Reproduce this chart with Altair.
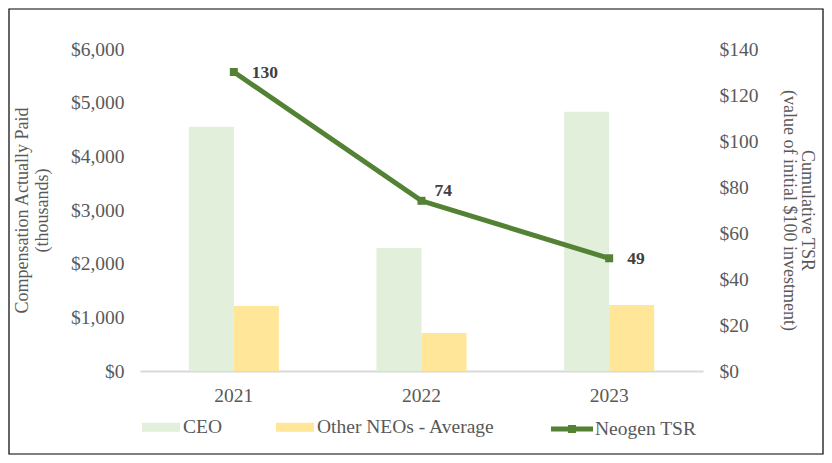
import altair as alt
import pandas as pd

# ---- data ----
years = ["2021", "2022", "2023"]
ceo_cap = [4550, 2290, 4830]
neo_cap = [1210, 710, 1230]
tsr = [130, 74, 49]
bar_series = ["CEO", "Other NEOs - Average"]
line_series = "Neogen TSR"
left_ticks = [0, 1000, 2000, 3000, 4000, 5000, 6000]
right_ticks = [0, 20, 40, 60, 80, 100, 120, 140]

bar_df = pd.DataFrame({
    "Year": years * 2,
    "Series": [bar_series[0]] * 3 + [bar_series[1]] * 3,
    "Value": ceo_cap + neo_cap,
})
tsr_df = pd.DataFrame({"Year": years, "TSR": tsr, "Series": [line_series] * 3})

FONT = "Liberation Serif"
GREEN = "#548235"
GREY = "#595959"
LBL = 19.5
W, H = 563, 322

x_enc = alt.X(
    "Year:N",
    sort=years,
    scale=alt.Scale(paddingInner=0.52, paddingOuter=0.26),
    axis=alt.Axis(
        title=None, labelAngle=0, ticks=False, tickSize=0,
        domainColor="#D9D9D9", domainWidth=2, labelPadding=15,
        labelFont=FONT, labelFontSize=LBL, labelColor=GREY, grid=False,
    ),
)

bars = alt.Chart(bar_df).mark_bar().encode(
    x=x_enc,
    xOffset=alt.XOffset("Series:N", sort=bar_series,
                        scale=alt.Scale(paddingInner=0, paddingOuter=0)),
    y=alt.Y(
        "Value:Q",
        scale=alt.Scale(domain=[0, 6000], nice=False),
        axis=alt.Axis(
            orient="left", values=left_ticks, format="$,.0f",
            title=["Compensation Actually Paid", "(thousands)"],
            titleFont=FONT, titleFontSize=18, titleColor=GREY,
            titleFontWeight="normal", titlePadding=19, titleLineHeight=20,
            labelFont=FONT, labelFontSize=LBL, labelColor=GREY,
            labelPadding=16, ticks=False, tickSize=0, domain=False, grid=False,
        ),
    ),
    color=alt.Color(
        "Series:N",
        scale=alt.Scale(domain=bar_series, range=["#E2EFDA", "#FFE699"]),
        legend=alt.Legend(
            orient="none", legendX=2, legendY=359, direction="horizontal",
            title=None, padding=0, symbolType="M-1,-0.237H1V0.237H-1Z",
            symbolSize=1444, symbolStrokeWidth=0, symbolOpacity=1,
            labelFont=FONT, labelFontSize=LBL, labelColor=GREY,
            labelOffset=3, columnPadding=54, labelLimit=400,
        ),
    ),
)

y_tsr = alt.Y(
    "TSR:Q",
    scale=alt.Scale(domain=[0, 140], nice=False),
    axis=alt.Axis(
        orient="right", values=right_ticks, format="$,.0f",
        title=["Cumulative TSR", "(value of initial $100 investment)"],
        titleFont=FONT, titleFontSize=18, titleColor=GREY,
        titleFontWeight="normal", titlePadding=21, titleLineHeight=18,
        labelFont=FONT, labelFontSize=LBL, labelColor=GREY,
        labelPadding=16, ticks=False, tickSize=0, domain=False, grid=False,
    ),
)

line = alt.Chart(tsr_df).mark_line(strokeWidth=5, color=GREEN).encode(
    x=alt.X("Year:N", sort=years), y=y_tsr,
)

points = alt.Chart(tsr_df).mark_point(
    shape="square", filled=True, size=64, opacity=1
).encode(
    x=alt.X("Year:N", sort=years),
    y=alt.Y("TSR:Q"),
    fill=alt.Fill(
        "Series:N",
        scale=alt.Scale(domain=[line_series], range=[GREEN]),
        legend=alt.Legend(
            orient="none", legendX=411, legendY=359, direction="horizontal",
            title=None, padding=0,
            symbolType="M-1,-0.12H1V0.12H-1Z M-0.19,-0.19H0.19V0.19H-0.19Z",
            symbolSize=1764, symbolStrokeWidth=0, symbolOpacity=1,
            labelFont=FONT, labelFontSize=LBL, labelColor=GREY, labelOffset=2,
            labelLimit=400,
        ),
    ),
)

labels_a = alt.Chart(tsr_df).transform_filter(
    alt.datum.Year != "2022"
).mark_text(
    align="left", baseline="middle", dx=18, dy=1,
    font=FONT, fontSize=17.5, fontWeight="bold", color="#404040",
).encode(x=alt.X("Year:N", sort=years), y=alt.Y("TSR:Q"), text=alt.Text("TSR:Q"))

labels_b = alt.Chart(tsr_df).transform_filter(
    alt.datum.Year == "2022"
).mark_text(
    align="left", baseline="middle", dx=13, dy=-10,
    font=FONT, fontSize=17.5, fontWeight="bold", color="#404040",
).encode(x=alt.X("Year:N", sort=years), y=alt.Y("TSR:Q"), text=alt.Text("TSR:Q"))

tsr_layer = alt.layer(line, points, labels_a, labels_b)

border = alt.Chart(alt.Data(values=[{"b": 1}])).mark_rect(
    fill="transparent", stroke="black", strokeWidth=1.2
).encode(
    x=alt.value(-131), x2=alt.value(683), y=alt.value(-40), y2=alt.value(405),
)

chart = alt.layer(bars, tsr_layer, border).resolve_scale(
    y="independent", color="independent", fill="independent"
).properties(
    width=W, height=H,
    padding={"left": 132, "top": 41, "right": 121, "bottom": 84},
    autosize=alt.AutoSizeParams(type="none"),
    background="white",
).configure_view(stroke="transparent", strokeWidth=0)

chart.save("out.html", embed_options={"renderer": "svg", "actions": False})
